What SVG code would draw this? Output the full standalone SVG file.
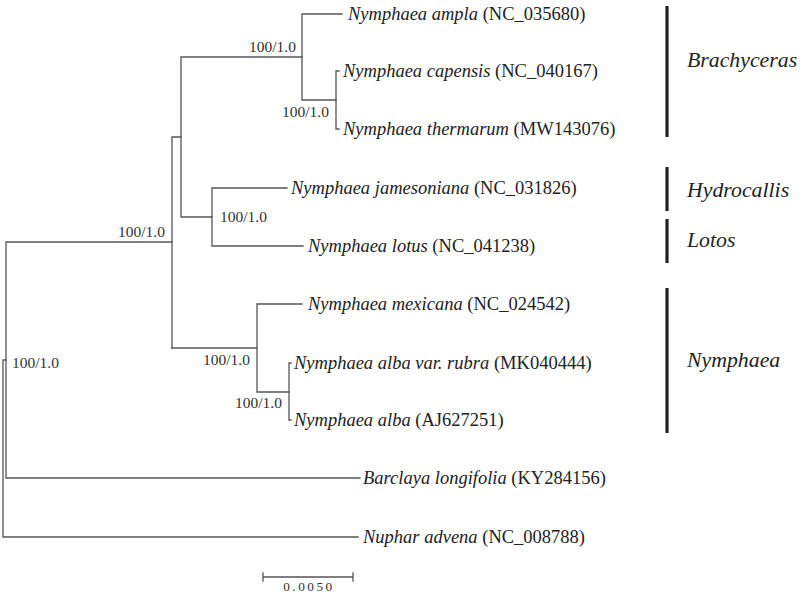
<svg xmlns="http://www.w3.org/2000/svg" width="800" height="596" viewBox="0 0 800 596">
<style>
.br{stroke:#555;stroke-width:1.3;fill:none;stroke-linecap:square}
.bar{stroke:#222;stroke-width:3.2}
text{font-family:'Liberation Serif','Times New Roman',Times,'DejaVu Serif',serif}
.lf{font-size:18.5px;fill:#222}
.it{font-style:italic}
.sp{font-size:15.5px;fill:#333}
.cl{font-size:21.8px;font-style:italic;fill:#222}
.sc{font-size:13.3px;fill:#333;letter-spacing:2.5px}
</style>
<rect width="800" height="596" fill="#fff"/>
<g id="connectors">
<path class="br" d="M3 360V537H358M3 360H6"/>
<path class="br" d="M6 242V478H360M6 242H172"/>
<path class="br" d="M172 137V348M172 137H181"/>
<path class="br" d="M181 57V217M181 57H302M181 217H212"/>
<path class="br" d="M302 14V100M302 14H342M302 100H336"/>
<path class="br" d="M336 71V129M336 71H339M336 129H339"/>
<path class="br" d="M212 188V246M212 188H287M212 246H303"/>
<path class="br" d="M172 348H257M257 304V392M257 304H302M257 392H289"/>
<path class="br" d="M289 363V420M289 363H291M289 420H291"/>
</g>
<g id="supports">
<text class="sp" x="296" y="52" text-anchor="end">100/1.0</text>
<text class="sp" x="329" y="117" text-anchor="end">100/1.0</text>
<text class="sp" x="165" y="237" text-anchor="end">100/1.0</text>
<text class="sp" x="220" y="222">100/1.0</text>
<text class="sp" x="250" y="365" text-anchor="end">100/1.0</text>
<text class="sp" x="282" y="408" text-anchor="end">100/1.0</text>
<text class="sp" x="12" y="368">100/1.0</text>
</g>
<g id="leaf-ampla"><text class="lf" x="348" y="20"><tspan class="it">Nymphaea ampla</tspan> (NC_035680)</text></g>
<g id="leaf-capensis"><text class="lf" x="343" y="77"><tspan class="it">Nymphaea capensis</tspan> (NC_040167)</text></g>
<g id="leaf-thermarum"><text class="lf" x="343" y="135"><tspan class="it">Nymphaea thermarum</tspan> (MW143076)</text></g>
<g id="leaf-jamesoniana"><text class="lf" x="291" y="194"><tspan class="it">Nymphaea jamesoniana</tspan> (NC_031826)</text></g>
<g id="leaf-lotus"><text class="lf" x="308" y="252"><tspan class="it">Nymphaea lotus</tspan> (NC_041238)</text></g>
<g id="leaf-mexicana"><text class="lf" x="308" y="310"><tspan class="it">Nymphaea mexicana</tspan> (NC_024542)</text></g>
<g id="leaf-rubra"><text class="lf" x="294" y="369"><tspan class="it">Nymphaea alba var. rubra</tspan> (MK040444)</text></g>
<g id="leaf-alba"><text class="lf" x="294" y="426"><tspan class="it">Nymphaea alba</tspan> (AJ627251)</text></g>
<g id="leaf-barclaya"><text class="lf" x="363" y="484"><tspan class="it">Barclaya longifolia</tspan> (KY284156)</text></g>
<g id="leaf-nuphar"><text class="lf" x="363" y="543"><tspan class="it">Nuphar advena</tspan> (NC_008788)</text></g>
<g id="clade-brachyceras"><line class="bar" x1="667" y1="6" x2="667" y2="137"/><text class="cl" x="687" y="67">Brachyceras</text></g>
<g id="clade-hydrocallis"><line class="bar" x1="667" y1="167" x2="667" y2="211"/><text class="cl" x="687" y="197">Hydrocallis</text></g>
<g id="clade-lotos"><line class="bar" x1="667" y1="219" x2="667" y2="263"/><text class="cl" x="687" y="247">Lotos</text></g>
<g id="clade-nymphaea"><line class="bar" x1="667" y1="288" x2="667" y2="433"/><text class="cl" x="687" y="367">Nymphaea</text></g>
<g id="scale">
<path class="br" d="M263 577H353M263 573V581M353 573V581"/>
<text class="sc" x="309" y="591" text-anchor="middle">0.0050</text>
</g>
</svg>
